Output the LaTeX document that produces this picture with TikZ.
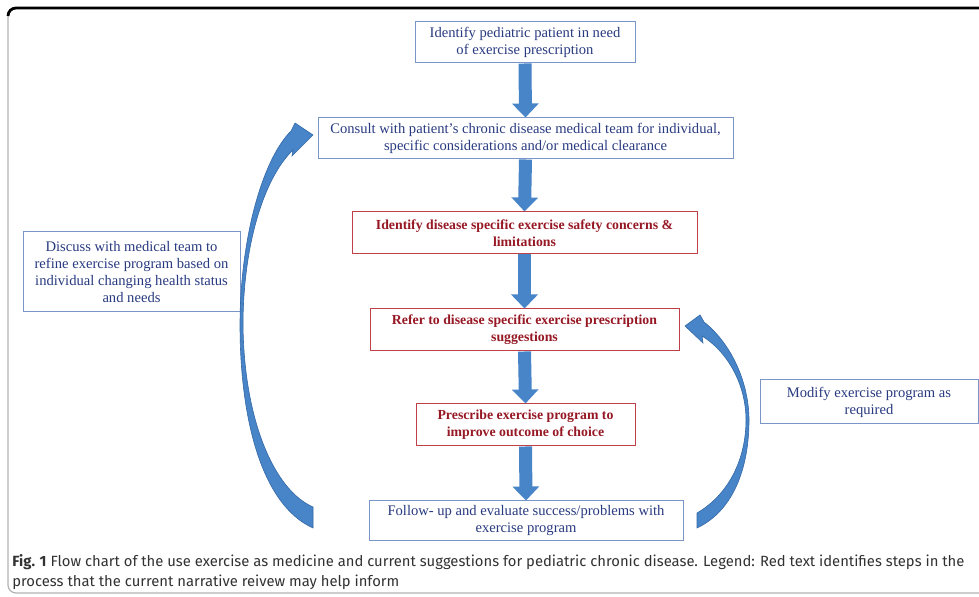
\documentclass[tikz,border=0pt]{standalone}
\usepackage{fontspec}
\setmainfont{Liberation Serif}
\newfontfamily\capfont{Fira Sans}
\usepackage{xcolor}
\usepackage{tikz}
\usetikzlibrary{arrows.meta}

\definecolor{boxblue}{RGB}{122,150,200}
\definecolor{txtblue}{RGB}{40,58,128}
\definecolor{boxred}{RGB}{192,64,74}
\definecolor{txtred}{RGB}{150,24,36}
\definecolor{arrfill}{RGB}{72,132,200}
\definecolor{arredge}{RGB}{52,104,165}
\definecolor{capgray}{RGB}{50,50,50}

\begin{document}
\begin{tikzpicture}[x=0.5pt, y=-0.5pt,
    stepblue/.style={draw=boxblue, line width=0.5pt, text=txtblue, align=center, inner sep=0pt,
      font=\fontsize{7.3}{8.5}\selectfont},
    stepred/.style={draw=boxred, line width=0.5pt, text=txtred, align=center, inner sep=0pt,
      font=\fontsize{6.9}{8.5}\selectfont\bfseries},
    flow/.style={line width=6.5pt, arrfill, -{Triangle[width=13pt, length=7pt]}},
    loopback/.style={fill=arrfill, draw=arredge, line width=0.3pt}]
  \useasboundingbox (0,0) rectangle (979,597);
  % frame
  \draw[gray!60, line width=0.6pt, rounded corners=4pt] (990,593) -- (8,593) -- (8,8) -- (990,8);
  \draw[black, line width=1.4pt, rounded corners=4pt] (8,16) -- (8,8) -- (990,8);

  % steps
  \node[stepblue, minimum width=110pt, minimum height=20.5pt] (patient) at (525,42.5)
    {Identify pediatric patient in need\\of exercise prescription};
  \node[stepblue, minimum width=207.5pt, minimum height=20.5pt] (consult) at (525.5,138.5)
    {Consult with patient's chronic disease medical team for individual,\\specific considerations and/or medical clearance};
  \node[stepred, minimum width=172.5pt, minimum height=21pt] (safety) at (524.5,233)
    {Identify disease specific exercise safety concerns \&\\limitations};
  \node[stepred, minimum width=154.5pt, minimum height=21pt] (refer) at (524.5,330)
    {Refer to disease specific exercise prescription\\suggestions};
  \node[stepred, minimum width=109.5pt, minimum height=21pt] (prescribe) at (525.5,425)
    {Prescribe exercise program to\\improve outcome of choice};
  \node[stepblue, minimum width=157pt, minimum height=20pt] (followup) at (526,521)
    {Follow- up and evaluate success/problems with\\exercise program};
  \node[stepblue, minimum width=108.5pt, minimum height=40pt] (discuss) at (131.5,272)
    {Discuss with medical team to\\refine exercise program based on\\individual changing health status\\and needs};
  \node[stepblue, minimum width=109pt, minimum height=22pt] (modify) at (869,402)
    {Modify exercise program as\\required};

  % down arrows
  \draw[flow] (patient.south) -- (consult.north);
  \draw[flow] (consult.south) -- (safety.north);
  \draw[flow] (safety.south) -- (refer.north);
  \draw[flow] (refer.south) -- (prescribe.north);
  \draw[flow] (prescribe.south) -- (followup.north);

  % loop back to consult
  \path[loopback] (313,135) -- (295,123) -- (291,131)
    .. controls (262,160) and (240,240) .. (240,325)
    .. controls (240,420) and (262,505) .. (313,528) -- (313,507)
    .. controls (274,490) and (244,420) .. (243,325)
    .. controls (243,250) and (262,180) .. (293,150) -- (292,156) -- cycle;
  % loop back to refer
  \path[loopback] (685,326) -- (700,315) -- (704,322)
    .. controls (733,345) and (749,385) .. (749,420)
    .. controls (749,465) and (735,510) .. (697,528) -- (697,513)
    .. controls (728,495) and (746,460) .. (746,420)
    .. controls (746,385) and (728,352) .. (702,336) -- (703,343) -- cycle;

  % caption
  \node[anchor=north west, align=left, inner sep=0pt, text=capgray,
    font=\capfont\fontsize{7.4}{10}\selectfont] (caption) at (12,554)
    {\textbf{Fig. 1} Flow chart of the use exercise as medicine and current suggestions for pediatric chronic disease. Legend: Red text identifies steps in the\\process that the current narrative reivew may help inform};
\end{tikzpicture}
\end{document}
